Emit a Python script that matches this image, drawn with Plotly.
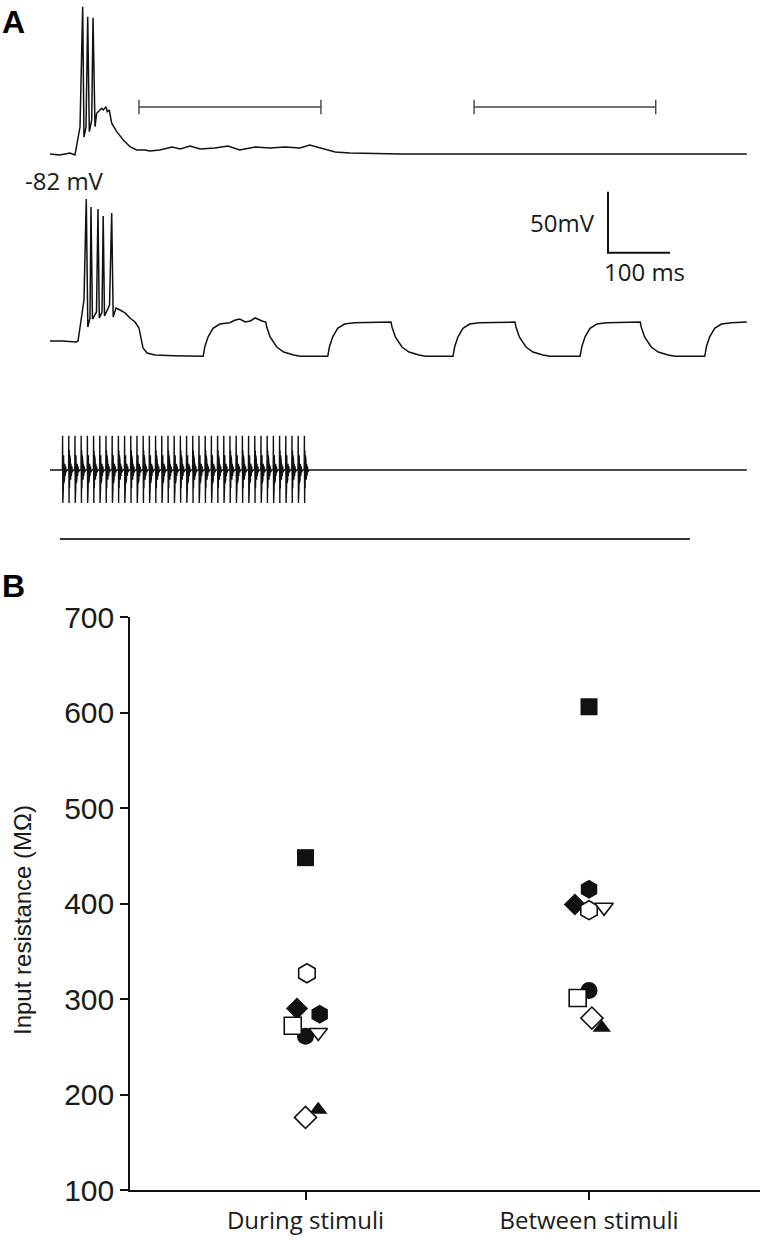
import plotly.graph_objects as go

# ---------------- Panel A data (time in ms, membrane potential in mV) ----------------
trace1_t = [0, 16, 32, 40.3, 48.4, 52.7, 54.8, 58.1, 60.8, 63.4, 67.3, 69.4, 72.6, 75.3, 83.4,
            86, 90.3, 92.4, 95.6, 99.5, 107.6, 118.2, 129, 139.8, 153, 161, 177, 197, 210, 226,
            242, 266, 287, 306, 331, 355, 379, 403, 419, 435, 460, 484, 565, 1124]
trace1_v = [-82, -82.8, -81.2, -82.8, -59.9, 38.7, -68.1, -59.9, 30.5, -63.7, -54.1, 29.7, -59.6,
            -48.6, -44.5, -45.9, -43.2, -47.3, -45.9, -56.8, -63.7, -70.5, -76, -78.7, -78.7,
            -79.5, -78.7, -76.3, -77.9, -75.4, -77.9, -77.1, -75.4, -78.7, -76.3, -77.1, -76.3,
            -77.1, -74.6, -77.1, -80.4, -81.2, -82, -82]

trace2_start_t = [0, 19.4, 41.9, 45.2, 54.8, 58.5, 61, 64.5, 66.1, 68.5, 75, 77.4, 79.5, 83.9,
                  85.8, 87.9, 96, 99.5, 101.9, 106.5, 112.9, 121, 129, 137.1, 143.5, 146.8, 150,
                  156.5, 169.4, 200]
trace2_start_v = [-82, -82, -82.8, -82, -48.4, 34.4, -70.5, -63.1, 27.8, -64, -58.2, 26.2, -63.1,
                  -58.2, 20.5, -61.5, -52.5, 22.9, -62.3, -55, -56.6, -59, -63.1, -66.4, -71.3,
                  -81.2, -87.7, -91.8, -93.5, -94]
step_times = [247, 348, 448, 550, 650, 750, 855, 952, 1056]
trace_end = 1124
rise_dt = [0, 2.7, 8, 16, 27, 43]
rise_v = [-94.5, -86.7, -78.5, -71.6, -68.1, -67]
fall_dt = [0, 1.6, 7, 17.7, 29, 45, 56]
fall_v = [-66.5, -70.5, -78.7, -86.9, -91, -93.5, -94.5]
high_level = -66.5
low_level = -94.5
plateau1_t = [298, 306, 315, 323, 331, 342]
plateau1_v = [-65, -64, -66.4, -65.6, -63.1, -65.6]

pulse_times = [20, 30, 40, 50, 60, 70, 80, 90, 100, 110, 120, 130, 140, 150, 160, 170, 180, 190,
               200, 210, 220, 230, 240, 250, 260, 270, 280, 290, 300, 310, 320, 330, 340, 350,
               360, 370, 380, 390, 400, 410]
pulse_dt = [0, 0.3, 0.7, 1.1, 1.5, 1.9, 2.3, 2.8, 3.3, 3.9, 4.5, 5.2, 6.0, 7.0]
pulse_v = [0, 28, -27, 16, -15, 12, -11, 8, -8, 5, -5, 3, -2, 0]

trace2_offset = -153.3
trace3_baseline = -341

bracket_spans = [(143.5, 437), (684, 977)]
bracket_level = -43.5
stim_bar = (16, 1032)
stim_bar_level = -397.6
scale_origin = (900, -163)
scale_t = 100
scale_mv = 50

# ---------------- Panel B data ----------------
categories = ["During stimuli", "Between stimuli"]
cell_symbols = ["square", "hexagon", "diamond", "circle", "triangle-up",
                "hexagon-open", "triangle-down-open", "square-open", "diamond-open"]
during = [448, 284, 290, 261, 184, 327, 265, 272, 176]
between = [606, 415, 399, 309, 270, 393, 396, 301, 280]
jit_during = [0, 0.05, -0.03, 0, 0.045, 0.005, 0.045, -0.045, 0]
jit_between = [0, 0, -0.05, 0, 0.045, 0, 0.053, -0.04, 0.01]
sizes = [17, 19, 17, 17, 16, 19, 16, 17, 17]

# ---------------- build traces ----------------
fig = go.Figure()

line_kw = dict(color="#111111", width=1.5)

fig.add_trace(go.Scatter(x=trace1_t, y=trace1_v, mode="lines", line=line_kw,
                         xaxis="x2", yaxis="y2", hoverinfo="skip"))

t2 = list(trace2_start_t)
v2 = list(trace2_start_v)
for i, ts in enumerate(step_times):
    nxt = step_times[i + 1] if i + 1 < len(step_times) else trace_end
    if i % 2 == 0:
        t2 += [ts + d for d in rise_dt]
        v2 += rise_v
        if i == 0:
            t2 += plateau1_t
            v2 += plateau1_v
        t2.append(nxt)
        v2.append(high_level)
    else:
        t2 += [ts + d for d in fall_dt]
        v2 += fall_v
        t2.append(nxt)
        v2.append(low_level)
fig.add_trace(go.Scatter(x=t2, y=[v + trace2_offset for v in v2], mode="lines", line=line_kw,
                         xaxis="x2", yaxis="y2", hoverinfo="skip"))

t3 = [0]
v3 = [0]
for pt in pulse_times:
    t3 += [pt + d for d in pulse_dt]
    v3 += pulse_v
t3.append(trace_end)
v3.append(0)
fig.add_trace(go.Scatter(x=t3, y=[v + trace3_baseline for v in v3], mode="lines",
                         line=dict(color="#111111", width=1.4),
                         xaxis="x2", yaxis="y2", hoverinfo="skip"))

# brackets
for a, b in bracket_spans:
    fig.add_trace(go.Scatter(
        x=[a, a, None, a, b, None, b, b],
        y=[bracket_level - 6, bracket_level + 6, None, bracket_level, bracket_level, None,
           bracket_level - 6, bracket_level + 6],
        mode="lines", line=dict(color="#444444", width=1.4),
        xaxis="x2", yaxis="y2", hoverinfo="skip"))

# stimulus bar
fig.add_trace(go.Scatter(x=list(stim_bar), y=[stim_bar_level, stim_bar_level], mode="lines",
                         line=dict(color="#333333", width=2), xaxis="x2", yaxis="y2",
                         hoverinfo="skip"))

# scale bar
so_t, so_v = scale_origin
fig.add_trace(go.Scatter(x=[so_t, so_t, so_t + scale_t], y=[so_v + scale_mv, so_v, so_v],
                         mode="lines", line=dict(color="#111111", width=2),
                         xaxis="x2", yaxis="y2", hoverinfo="skip"))

# Panel B markers
for sym, d, b, jd, jb, s in zip(cell_symbols, during, between, jit_during, jit_between, sizes):
    is_open = sym.endswith("-open")
    fig.add_trace(go.Scatter(
        x=[1 + jd, 2 + jb], y=[d, b], mode="markers",
        marker=dict(symbol=sym.replace("-open", ""), size=s,
                    color="white" if is_open else "#111111",
                    line=dict(color="#111111", width=1.6 if is_open else 0)),
        xaxis="x", yaxis="y"))

label_font = dict(family="Open Sans, Noto Sans, sans-serif", size=24, color="#1a1a1a")

fig.update_layout(
    width=760, height=1240,
    margin=dict(l=0, r=0, t=0, b=0, pad=0),
    autosize=False,
    paper_bgcolor="white", plot_bgcolor="white",
    showlegend=False,
    xaxis=dict(domain=[130 / 760, 1], range=[0.381, 2.603], tickvals=[1, 2], ticktext=categories,
               showline=True, linecolor="#111111", linewidth=1.5, ticks="outside", ticklen=8,
               tickwidth=1.5, tickcolor="#111111", showgrid=False, zeroline=False,
               automargin=False, anchor="y",
               tickfont=dict(family="Open Sans, sans-serif", size=24, color="#1a1a1a")),
    yaxis=dict(domain=[1 - 1190 / 1240, 1 - 617 / 1240], range=[100, 700],
               tickvals=[100, 200, 300, 400, 500, 600, 700],
               showline=True, linecolor="#111111", linewidth=1.5, ticks="outside", ticklen=8,
               tickwidth=1.5, tickcolor="#111111", showgrid=False, zeroline=False,
               automargin=False, anchor="x",
               tickfont=dict(family="Liberation Sans, Arial, sans-serif", size=30, color="#1a1a1a")),
    xaxis2=dict(domain=[0, 1], range=[-80.65, 1145.16], visible=False, anchor="y2",
                automargin=False),
    yaxis2=dict(domain=[1 - 560 / 1240, 1], range=[-414.8, 44.23], visible=False, anchor="x2",
                automargin=False),
)

annotations = [
    dict(text="<b>A</b>", x=0, y=1 - 2 / 1240, xref="paper", yref="paper", xanchor="left",
         yanchor="top", showarrow=False,
         font=dict(family="Liberation Sans, Arial, sans-serif", size=32, color="#000")),
    dict(text="<b>B</b>", x=0, y=1 - 566 / 1240, xref="paper", yref="paper", xanchor="left",
         yanchor="top", showarrow=False,
         font=dict(family="Liberation Sans, Arial, sans-serif", size=32, color="#000")),
    dict(text="Input resistance (MΩ)", x=22 / 760, y=1 - 920 / 1240, xref="paper", yref="paper",
         textangle=-90, showarrow=False, xanchor="center", yanchor="middle",
         font=dict(family="Liberation Sans, Arial, sans-serif", size=24, color="#1a1a1a")),
    dict(text="-82 mV", x=24, y=-104, xref="x2", yref="y2", showarrow=False,
         xanchor="center", yanchor="middle", font=label_font),
    dict(text="50mV", x=882, y=-138, xref="x2", yref="y2", showarrow=False,
         xanchor="right", yanchor="middle", font=label_font),
    dict(text="100 ms", x=890, y=-178, xref="x2", yref="y2", showarrow=False,
         xanchor="left", yanchor="middle", font=label_font),
]
fig.update_layout(annotations=annotations)

fig.write_html("out.html", config={"displayModeBar": False},
               post_script="document.body.style.margin='0';")
